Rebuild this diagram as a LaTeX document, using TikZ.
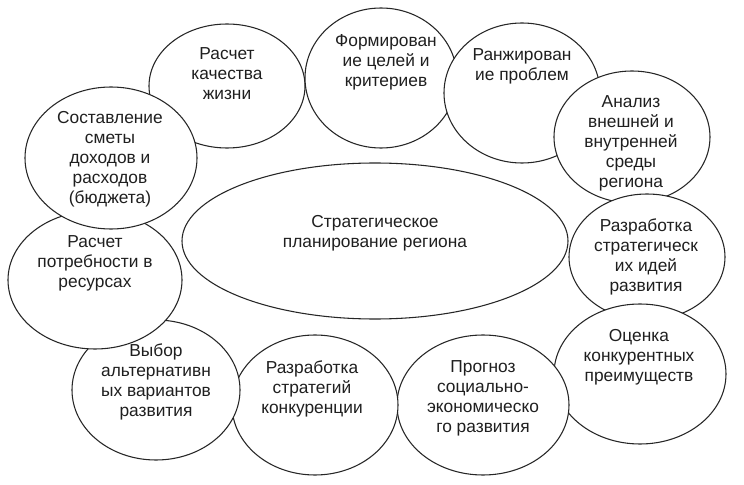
\documentclass[tikz,border=0pt]{standalone}
\usepackage{fontspec}
\setmainfont{Liberation Sans}
\usetikzlibrary{shapes.geometric}
\tikzset{
  bub/.style 2 args={ellipse, draw=black!85, line width=0.8pt, fill=white, inner sep=0pt,
    minimum width=#1*1.5pt, minimum height=#2*1.5pt},
  lbl/.style={align=center, inner sep=0pt, text=black!88,
    font=\fontsize{13pt}{15pt}\selectfont}
}
\begin{document}
\begin{tikzpicture}[x=0.75pt, y=-0.75pt]
\useasboundingbox[fill=white] (0,0) rectangle (744,485);
% ellipses in stacking order
\node[bub={78}{62}] (e1) at (227,86) {};
\node[bub={76}{70}] (e2) at (381,78) {};
\node[bub={78}{70}] (e3) at (522,93) {};
\node[bub={78}{66}] (e4) at (632,137) {};
\node[bub={78}{63}] (e5) at (647,257) {};
\node[bub={86}{70}] (e6) at (640,374) {};
\node[bub={86}{70}] (e7) at (483,405) {};
\node[bub={83}{70}] (e8) at (315,405) {};
\node[bub={84}{70}] (e9) at (156,390) {};
\node[bub={87}{69}] (e10) at (95,280) {};
\node[bub={86}{71}] (e11) at (111,158) {};
\node[bub={193}{78}] (e12) at (375,241) {};
% labels
\node[lbl] (t1) at (227,74) {Расчет\\качества\\жизни};
\node[lbl] (t2) at (386,62) {Формирован\\ие целей и\\критериев};
\node[lbl] (t3) at (522,66) {Ранжирован\\ие проблем};
\node[lbl] (t4) at (631,143) {Анализ\\внешней и\\внутренней\\среды\\региона};
\node[lbl] (t5) at (646,257) {Разработка\\стратегическ\\их идей\\развития};
\node[lbl] (t6) at (639,357) {Оценка\\конкурентных\\преимуществ};
\node[lbl] (t7) at (483,398) {Прогноз\\социально-\\экономическо\\го развития};
\node[lbl] (t8) at (312,389) {Разработка\\стратегий\\конкуренции};
\node[lbl] (t9) at (156,382) {Выбор\\альтернативн\\ых вариантов\\развития};
\node[lbl] (t10) at (95,263) {Расчет\\потребности в\\ресурсах};
\node[lbl] (t11) at (110,159) {Составление\\сметы\\доходов и\\расходов\\(бюджета)};
\node[lbl] (t12) at (375,233) {Стратегическое\\планирование региона};
\end{tikzpicture}
\end{document}
